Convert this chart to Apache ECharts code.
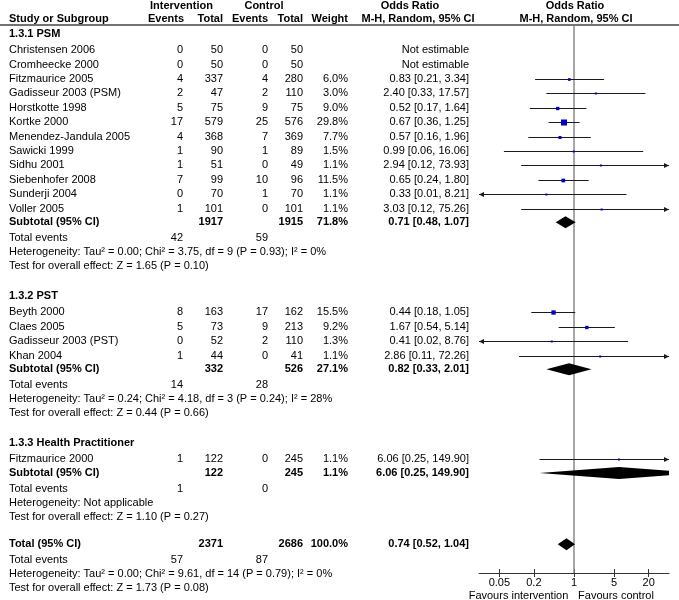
<!DOCTYPE html>
<html>
<head>
<meta charset="utf-8">
<title>Forest plot</title>
<script src="https://cdn.jsdelivr.net/npm/echarts@6/dist/echarts.min.js"></script>
<style>
    html, body { margin: 0; padding: 0; background: #fff; }
    #forest { width: 679px; height: 600px; }
</style>
</head>
<body>
<div id="forest"></div>
<script>
// ---- data ----
var studyNames = ['Christensen 2006', 'Cromheecke 2000', 'Fitzmaurice 2005', 'Gadisseur 2003 (PSM)',
    'Horstkotte 1998', 'Kortke 2000', 'Menendez-Jandula 2005', 'Sawicki 1999', 'Sidhu 2001',
    'Siebenhofer 2008', 'Sunderji 2004', 'Voller 2005',
    'Beyth 2000', 'Claes 2005', 'Gadisseur 2003 (PST)', 'Khan 2004',
    'Fitzmaurice 2000'];
var studyGroup = [0, 0, 0, 0, 0, 0, 0, 0, 0, 0, 0, 0, 1, 1, 1, 1, 2];
var eventsInt = [0, 0, 4, 2, 5, 17, 4, 1, 1, 7, 0, 1, 8, 5, 0, 1, 1];
var totalInt = [50, 50, 337, 47, 75, 579, 368, 90, 51, 99, 70, 101, 163, 73, 52, 44, 122];
var eventsCtl = [0, 0, 4, 2, 9, 25, 7, 1, 0, 10, 1, 0, 17, 9, 2, 0, 0];
var totalCtl = [50, 50, 280, 110, 75, 576, 369, 89, 49, 96, 70, 101, 162, 213, 110, 41, 245];
var weights = [null, null, 6.0, 3.0, 9.0, 29.8, 7.7, 1.5, 1.1, 11.5, 1.1, 1.1, 15.5, 9.2, 1.3, 1.1, 1.1];
var oddsRatio = [null, null, 0.83, 2.40, 0.52, 0.67, 0.57, 0.99, 2.94, 0.65, 0.33, 3.03, 0.44, 1.67, 0.41, 2.86, 6.06];
var ciLow = [null, null, 0.21, 0.33, 0.17, 0.36, 0.16, 0.06, 0.12, 0.24, 0.01, 0.12, 0.18, 0.54, 0.02, 0.11, 0.25];
var ciHigh = [null, null, 3.34, 17.57, 1.64, 1.25, 1.96, 16.06, 73.93, 1.80, 8.21, 75.26, 1.05, 5.14, 8.76, 72.26, 149.90];

var groupNames = ['1.3.1 PSM', '1.3.2 PST', '1.3.3 Health Practitioner'];
var groupTotalInt = [1917, 332, 122];
var groupTotalCtl = [1915, 526, 245];
var groupEventsInt = [42, 14, 1];
var groupEventsCtl = [59, 28, 0];
var groupWeight = [71.8, 27.1, 1.1];
var groupOR = [0.71, 0.82, 6.06];
var groupLow = [0.48, 0.33, 0.25];
var groupHigh = [1.07, 2.01, 149.90];
var groupHet = ['Heterogeneity: Tau\u00b2 = 0.00; Chi\u00b2 = 3.75, df = 9 (P = 0.93); I\u00b2 = 0%',
    'Heterogeneity: Tau\u00b2 = 0.24; Chi\u00b2 = 4.18, df = 3 (P = 0.24); I\u00b2 = 28%',
    'Heterogeneity: Not applicable'];
var groupTest = ['Test for overall effect: Z = 1.65 (P = 0.10)',
    'Test for overall effect: Z = 0.44 (P = 0.66)',
    'Test for overall effect: Z = 1.10 (P = 0.27)'];

var overallTotals = [2371, 2686];
var overallEvents = [57, 87];
var overallWeight = 100.0;
var overallOR = [0.74, 0.52, 1.04];
var overallHet = 'Heterogeneity: Tau\u00b2 = 0.00; Chi\u00b2 = 9.61, df = 14 (P = 0.79); I\u00b2 = 0%';
var overallTest = 'Test for overall effect: Z = 1.73 (P = 0.08)';

var tickValues = [0.05, 0.2, 1, 5, 20];

// ---- layout ----
var FONT = '"Liberation Sans", Arial, sans-serif';
var W = 679, H = 600;
var ROW_PX = 14.4, ROW0_Y = 34;
var PLOT_TOP = 26, PLOT_BOTTOM = 573;
var X_MIN = 0.0221, X_MAX = 45.2;
var COL = {name: 9, evI: 183, totI: 223, evC: 268, totC: 303, weight: 348, or: 469};

var textItems = [];
var studyMarks = [];
var diamondMarks = [];

function addText(x, row, text, align, bold) {
    textItems.push({value: [x, row], text: String(text), align: align, bold: !!bold});
}
function fmtCI(e, l, h) {
    return e.toFixed(2) + ' [' + l.toFixed(2) + ', ' + h.toFixed(2) + ']';
}

addText(181.5, -1.98, 'Intervention', 'center', true);
addText(264, -1.98, 'Control', 'center', true);
addText(410, -1.98, 'Odds Ratio', 'center', true);
addText(575, -1.98, 'Odds Ratio', 'center', true);
addText(COL.name, -1.02, 'Study or Subgroup', 'left', true);
addText(COL.evI + 1, -1.02, 'Events', 'right', true);
addText(COL.totI, -1.02, 'Total', 'right', true);
addText(COL.evC, -1.02, 'Events', 'right', true);
addText(COL.totC, -1.02, 'Total', 'right', true);
addText(COL.weight, -1.02, 'Weight', 'right', true);
addText(418, -1.02, 'M-H, Random, 95% CI', 'center', true);
addText(576, -1.02, 'M-H, Random, 95% CI', 'center', true);

var row = 0;
for (var g = 0; g < groupNames.length; g++) {
    if (g > 0) row += 2.1;
    addText(COL.name, row, groupNames[g], 'left', true);
    var first = true;
    for (var i = 0; i < studyNames.length; i++) {
        if (studyGroup[i] !== g) continue;
        row += first ? 1.12 : 1;
        first = false;
        addText(COL.name, row, studyNames[i], 'left');
        addText(COL.evI, row, eventsInt[i], 'right');
        addText(COL.totI, row, totalInt[i], 'right');
        addText(COL.evC, row, eventsCtl[i], 'right');
        addText(COL.totC, row, totalCtl[i], 'right');
        if (oddsRatio[i] === null) {
            addText(COL.or, row, 'Not estimable', 'right');
        } else {
            addText(COL.weight, row, weights[i].toFixed(1) + '%', 'right');
            addText(COL.or, row, fmtCI(oddsRatio[i], ciLow[i], ciHigh[i]), 'right');
            studyMarks.push([oddsRatio[i], row, ciLow[i], ciHigh[i], weights[i]]);
        }
    }
    row += 0.95;
    addText(COL.name, row, 'Subtotal (95% CI)', 'left', true);
    addText(COL.totI, row, groupTotalInt[g], 'right', true);
    addText(COL.totC, row, groupTotalCtl[g], 'right', true);
    addText(COL.weight, row, groupWeight[g].toFixed(1) + '%', 'right', true);
    addText(COL.or, row, fmtCI(groupOR[g], groupLow[g], groupHigh[g]), 'right', true);
    diamondMarks.push([groupOR[g], row, groupLow[g], groupHigh[g]]);
    row += 1.1;
    addText(COL.name, row, 'Total events', 'left');
    addText(COL.evI, row, groupEventsInt[g], 'right');
    addText(COL.evC, row, groupEventsCtl[g], 'right');
    row += 0.97;
    addText(COL.name, row, groupHet[g], 'left');
    row += 0.97;
    addText(COL.name, row, groupTest[g], 'left');
}

row += 1.9;
addText(COL.name, row, 'Total (95% CI)', 'left', true);
addText(COL.totI, row, overallTotals[0], 'right', true);
addText(COL.totC, row, overallTotals[1], 'right', true);
addText(COL.weight, row, overallWeight.toFixed(1) + '%', 'right', true);
addText(COL.or, row, fmtCI(overallOR[0], overallOR[1], overallOR[2]), 'right', true);
diamondMarks.push([overallOR[0], row, overallOR[1], overallOR[2]]);
row += 1.1;
addText(COL.name, row, 'Total events', 'left');
addText(COL.evI, row, overallEvents[0], 'right');
addText(COL.evC, row, overallEvents[1], 'right');
row += 0.97;
addText(COL.name, row, overallHet, 'left');
row += 0.97;
addText(COL.name, row, overallTest, 'left');
row += 0.55;
addText(518.5, row, 'Favours intervention', 'center');
addText(616, row, 'Favours control', 'center');

// ---- renderers ----
function renderText(params, api) {
    var item = textItems[params.dataIndex];
    var p = api.coord([api.value(0), api.value(1)]);
    return {
        type: 'text',
        x: p[0],
        y: p[1],
        style: {
            text: item.text,
            align: item.align,
            verticalAlign: 'middle',
            fontSize: 11,
            fontFamily: FONT,
            fontWeight: item.bold ? 'bold' : 'normal',
            fill: '#000'
        }
    };
}

function renderStudy(params, api) {
    var est = api.value(0), r = api.value(1), lo = api.value(2), hi = api.value(3), w = api.value(4);
    var c = api.coord([est, r]);
    var left = api.coord([Math.max(lo, X_MIN), r]);
    var right = api.coord([Math.min(hi, X_MAX), r]);
    var y = Math.round(c[1]) + 0.5;
    var kids = [{
        type: 'line',
        shape: {x1: left[0], y1: y, x2: right[0], y2: y},
        style: {stroke: '#1a1a1a', lineWidth: 1}
    }];
    if (lo < X_MIN) {
        kids.push({type: 'polygon', shape: {points: [[left[0], y], [left[0] + 5, y - 2.5], [left[0] + 5, y + 2.5]]},
            style: {fill: '#1a1a1a'}});
    }
    if (hi > X_MAX) {
        kids.push({type: 'polygon', shape: {points: [[right[0], y], [right[0] - 5, y - 2.5], [right[0] - 5, y + 2.5]]},
            style: {fill: '#1a1a1a'}});
    }
    var s = Math.max(2, 1.1 * Math.sqrt(w));
    kids.push({
        type: 'rect',
        shape: {x: c[0] - s / 2, y: y - s / 2, width: s, height: s},
        style: {fill: '#0000c8'}
    });
    return {type: 'group', children: kids};
}

function renderDiamond(params, api) {
    var r = api.value(1);
    var c = api.coord([api.value(0), r]);
    var l = api.coord([api.value(2), r]);
    var h = api.coord([api.value(3), r]);
    var half = 6;
    return {
        type: 'polygon',
        shape: {points: [[l[0], c[1]], [c[0], c[1] - half], [h[0], c[1]], [c[0], c[1] + half]]},
        style: {fill: '#000'}
    };
}

// ---- chart ----
var myChart = echarts.init(document.getElementById('forest'));
var option = {
    animation: false,
    backgroundColor: '#fff',
    grid: [
        {left: 0, top: 0, width: W, height: H},
        {left: 479, top: PLOT_TOP, width: 190, height: PLOT_BOTTOM - PLOT_TOP}
    ],
    xAxis: [
        {gridIndex: 0, type: 'value', min: 0, max: W, show: false},
        {
            gridIndex: 1, type: 'log', logBase: 10, min: X_MIN, max: X_MAX, position: 'bottom',
            axisLine: {show: true, onZero: false, lineStyle: {color: '#333', width: 1}},
            axisTick: {show: true, length: 4, customValues: tickValues, lineStyle: {color: '#333'}},
            axisLabel: {
                show: true, customValues: tickValues, margin: 4,
                fontSize: 11, fontFamily: FONT, color: '#000',
                formatter: function (v) { return String(v); }
            },
            splitLine: {show: false}
        },
        {
            gridIndex: 1, type: 'log', logBase: 10, min: X_MIN, max: X_MAX, position: 'bottom', offset: 0,
            axisLine: {show: false, onZero: false},
            axisTick: {show: true, inside: true, length: 4, customValues: tickValues, lineStyle: {color: '#333'}},
            axisLabel: {show: false},
            splitLine: {show: false}
        }
    ],
    yAxis: [
        {gridIndex: 0, type: 'value', inverse: true, show: false,
            min: -ROW0_Y / ROW_PX, max: (H - ROW0_Y) / ROW_PX},
        {gridIndex: 1, type: 'value', inverse: true, show: false,
            min: (PLOT_TOP - ROW0_Y) / ROW_PX, max: (PLOT_BOTTOM - ROW0_Y) / ROW_PX}
    ],
    series: [
        {
            type: 'custom',
            xAxisIndex: 0, yAxisIndex: 0,
            silent: true,
            renderItem: renderText,
            data: textItems.map(function (t) { return t.value; }),
            markLine: {
                silent: true, symbol: ['none', 'none'], label: {show: false},
                lineStyle: {color: '#444', width: 1.5, type: 'solid'},
                data: [{yAxis: (25 - ROW0_Y) / ROW_PX}]
            }
        },
        {
            type: 'custom',
            xAxisIndex: 1, yAxisIndex: 1,
            silent: true,
            renderItem: renderStudy,
            encode: {x: 0, y: 1},
            data: studyMarks,
            z: 3,
            markLine: {
                silent: true, symbol: ['none', 'none'], label: {show: false},
                lineStyle: {color: '#8a8a8a', width: 1.5, type: 'solid'},
                data: [{xAxis: 1}],
                z: 1
            }
        },
        {
            type: 'custom',
            xAxisIndex: 1, yAxisIndex: 1,
            silent: true,
            clip: true,
            renderItem: renderDiamond,
            encode: {x: 0, y: 1},
            data: diamondMarks,
            z: 4
        }
    ]
};
option && myChart.setOption(option);
window.onresize = function () {
    myChart.resize();
};
</script>
</body>
</html>
